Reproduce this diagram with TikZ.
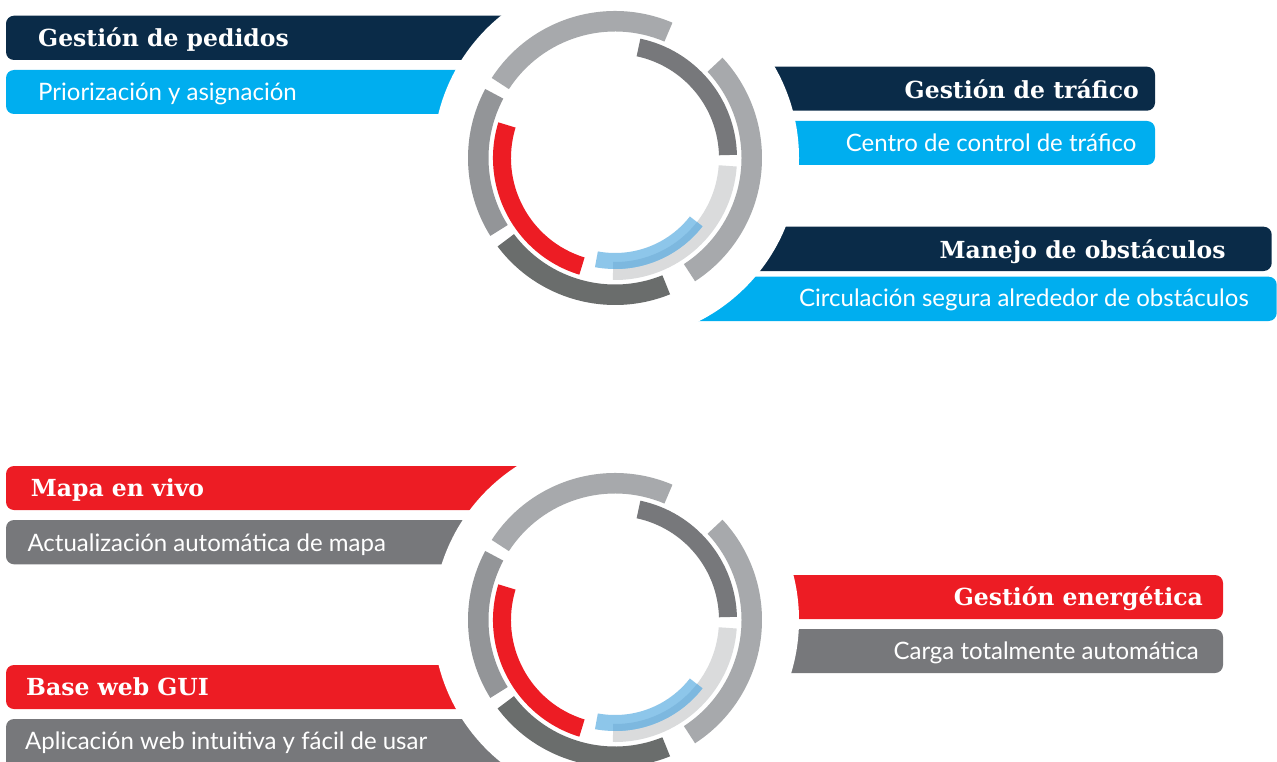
\documentclass[tikz,border=0pt]{standalone}
\usepackage{fontspec}
\setmainfont{Lato}
\newfontfamily\slabfont{DejaVu Serif}

\definecolor{navy}{HTML}{0A2B48}
\definecolor{cyanbar}{HTML}{00AEEF}
\definecolor{redbar}{HTML}{ED1C24}
\definecolor{graybar}{HTML}{77787B}
\definecolor{ringlight}{HTML}{A7A9AC}
\definecolor{ringmid}{HTML}{939598}
\definecolor{ringdark}{HTML}{6A6D6C}
\definecolor{ringpale}{HTML}{DADBDC}
\definecolor{ringblue}{HTML}{8DC6EA}
\definecolor{ringblueover}{HTML}{7DB8DF}

% colour, start angle, end angle, inner radius, outer radius
\newcommand{\ringpart}[5]{%
  \fill[#1] (#2:#5pt) arc[start angle=#2, end angle=#3, radius=#5pt]
    -- (#3:#4pt) arc[start angle=#3, end angle=#2, radius=#4pt] -- cycle;}

\newcommand{\ringset}[2]{%
  \begin{scope}[shift={(#1,#2)}]
    \fill[white] (1,0) circle (183pt);
    \ringpart{ringlight}{67}{147}{126.5}{147}
    \ringpart{ringmid}{152}{212}{126.5}{147}
    \ringpart{ringdark}{217}{292}{126.5}{147}
    \ringpart{ringlight}{-57}{43}{126.5}{147}
    \ringpart{graybar}{1.5}{78}{104}{122}
    \ringpart{ringpale}{-91}{-4}{104}{122}
    \ringpart{redbar}{163}{253}{104}{122}
    \ringpart{ringblue}{-100.4}{-38}{95}{111}
    \ringpart{ringblueover}{-91}{-38}{104}{111}
  \end{scope}}

\tikzset{
  title/.style={text=white, inner sep=0pt, font=\slabfont\bfseries\fontsize{23.5}{28}\selectfont},
  subtitle/.style={text=white, inner sep=0pt, font=\fontsize{24}{28}\selectfont},
}

\begin{document}
\begin{tikzpicture}[x=1pt,y=1pt]
    \useasboundingbox (0,0) rectangle (1277,-762);
    \clip (0,0) rectangle (1277,-762);
    \fill[navy, rounded corners=8pt] (6,-15.7) rectangle (560,-60);
    \fill[cyanbar, rounded corners=8pt] (6,-70) rectangle (560,-114);
    \fill[navy, rounded corners=8pt] (700,-66.7) rectangle (1155,-110.7);
    \fill[cyanbar, rounded corners=8pt] (700,-121) rectangle (1155,-165);
    \fill[navy, rounded corners=8pt] (680,-226.7) rectangle (1271.7,-271);
    \fill[cyanbar, rounded corners=8pt] (660,-276.7) rectangle (1276.7,-321);
    \fill[redbar, rounded corners=8pt] (6,-466) rectangle (560,-510);
    \fill[graybar, rounded corners=8pt] (6,-520) rectangle (560,-564.3);
    \fill[redbar, rounded corners=8pt] (6,-665) rectangle (560,-709);
    \fill[graybar, rounded corners=8pt] (6,-719) rectangle (560,-775);
    \fill[redbar, rounded corners=8pt] (700,-575) rectangle (1223,-619);
    \fill[graybar, rounded corners=8pt] (700,-629) rectangle (1223,-673);
    \ringset{615}{-158}
    \ringset{615}{-620}
    \node[title, anchor=base west] (pedidos) at (38,-46.7) {Gestión de pedidos};
    \node[subtitle, anchor=base west] (priorizacion) at (38,-101) {Priorización y asignación};
    \node[title, anchor=base east] (trafico) at (1139,-99) {Gestión de tráfico};
    \node[subtitle, anchor=base east] (control) at (1136.7,-151.7) {Centro de control de tráfico};
    \node[title, anchor=base east] (obstaculos) at (1225.7,-258.3) {Manejo de obstáculos};
    \node[subtitle, anchor=base east] (circulacion) at (1249,-306.7) {Circulación segura alrededor de obstáculos};
    \node[title, anchor=base west] (mapa) at (30.7,-496.7) {Mapa en vivo};
    \node[subtitle, anchor=base west] (actualizacion) at (27.3,-551) {Actualización automática de mapa};
    \node[title, anchor=base west] (gui) at (26,-695) {Base web GUI};
    \node[subtitle, anchor=base west] (aplicacion) at (25,-749) {Aplicación web intuitiva y fácil de usar};
    \node[title, anchor=base east] (energia) at (1203,-605) {Gestión energética};
    \node[subtitle, anchor=base east] (carga) at (1199,-659) {Carga totalmente automática};
\end{tikzpicture}
\end{document}
